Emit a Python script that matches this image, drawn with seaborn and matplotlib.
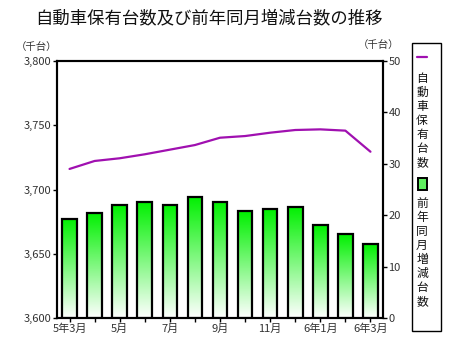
import numpy as np
import matplotlib
matplotlib.use('Agg')
import matplotlib.pyplot as plt
import seaborn as sns
from matplotlib.patches import Rectangle
from matplotlib.lines import Line2D
from matplotlib.ticker import FuncFormatter

months = ['5年3月', '4月', '5月', '6月', '7月', '8月', '9月', '10月', '11月', '12月', '6年1月', '2月', '6年3月']
tick_labels = ['5年3月', '', '5月', '', '7月', '', '9月', '', '11月', '', '6年1月', '', '6年3月']
holdings = [3716.0, 3722.2, 3724.3, 3727.4, 3731.0, 3734.6, 3740.3, 3741.6, 3744.2, 3746.3, 3746.8, 3745.8, 3729.4]
yoy_change = [19.3, 20.5, 21.9, 22.6, 22.0, 23.6, 22.6, 20.8, 21.2, 21.6, 18.0, 16.3, 14.3]

sns.set_style('white')
plt.rcParams['font.family'] = ['Noto Sans CJK JP', 'DejaVu Sans']

fig = plt.figure(figsize=(4.53, 3.54), dpi=100)
ax = fig.add_axes([57 / 453, 1 - 318 / 354, 326 / 453, 257 / 354])
ax2 = ax.twinx()

x = np.arange(len(months))

# bars on right axis, gradient fill clipped to each bar
sns.barplot(x=x, y=yoy_change, ax=ax2, width=0.58, color='white',
            edgecolor='black', linewidth=1.6)
grad = np.linspace(0, 1, 256).reshape(-1, 1)
cmap = matplotlib.colors.LinearSegmentedColormap.from_list('g', ['#ffffff', '#00f000'])
for p in list(ax2.patches):
    p.set_facecolor('none')
    p.set_zorder(3)
    x0, y0 = p.get_x(), p.get_y()
    w, h = p.get_width(), p.get_height()
    im = ax2.imshow(grad, cmap=cmap, aspect='auto', origin='lower',
                    extent=[x0, x0 + w, y0, y0 + h], zorder=2)
    im.set_clip_path(p)

sns.lineplot(x=x, y=holdings, ax=ax, color='#a010b0', linewidth=1.6)

ax.set_xlim(-0.5, len(months) - 0.5)
ax2.set_xlim(-0.5, len(months) - 0.5)
ax.set_ylim(3600, 3800)
ax2.set_ylim(0, 50)
ax.set_yticks([3600, 3650, 3700, 3750, 3800])
ax.yaxis.set_major_formatter(FuncFormatter(lambda v, p: f'{int(v):,}'))
ax2.set_yticks([0, 10, 20, 30, 40, 50])
ax.set_xticks(x)
ax.set_xticklabels(tick_labels)
ax.set_xlabel('')
ax.set_ylabel('')
ax2.set_ylabel('')

for a in (ax, ax2):
    for s in a.spines.values():
        s.set_linewidth(1.5)
        s.set_color('black')
    a.tick_params(axis='both', direction='out', length=3, width=1,
                  labelsize=8, pad=1, colors='black')
    a.tick_params(labelcolor='#333333')
ax.tick_params(axis='y', left=True, right=False)
ax2.tick_params(axis='y', right=True, left=False)
ax.tick_params(axis='x', bottom=True)

fig.text(209 / 453, 1 - 18 / 354, '自動車保有台数及び前年同月増減台数の推移',
         ha='center', va='center', fontsize=12.5, color='#111111')
fig.text(16 / 453, 1 - 47 / 354, '（千台）', ha='left', va='center', fontsize=7.5, color='#333333')
fig.text(358 / 453, 1 - 45 / 354, '（千台）', ha='left', va='center', fontsize=7.5, color='#333333')

# legend drawn by hand with vertical text
fig.patches.append(Rectangle((412 / 453, 1 - 331 / 354), 29 / 453, 288 / 354,
                             transform=fig.transFigure, fill=False,
                             edgecolor='black', linewidth=1))
fig.lines.append(Line2D([417 / 453, 427 / 453], [1 - 57 / 354, 1 - 57 / 354],
                        transform=fig.transFigure, color='#a010b0', linewidth=1.6))
fig.text(422 / 453, 1 - 72 / 354, '\n'.join('自動車保有台数'), ha='center', va='top',
         fontsize=8.5, linespacing=1.1, color='#111111')
fig.patches.append(Rectangle((418 / 453, 1 - 190 / 354), 9 / 453, 12 / 354,
                             transform=fig.transFigure, facecolor='#60f060',
                             edgecolor='black', linewidth=1.4))
fig.text(422 / 453, 1 - 197 / 354, '\n'.join('前年同月増減台数'), ha='center', va='top',
         fontsize=8.5, linespacing=1.1, color='#111111')

fig.savefig('out.png', dpi=100)
